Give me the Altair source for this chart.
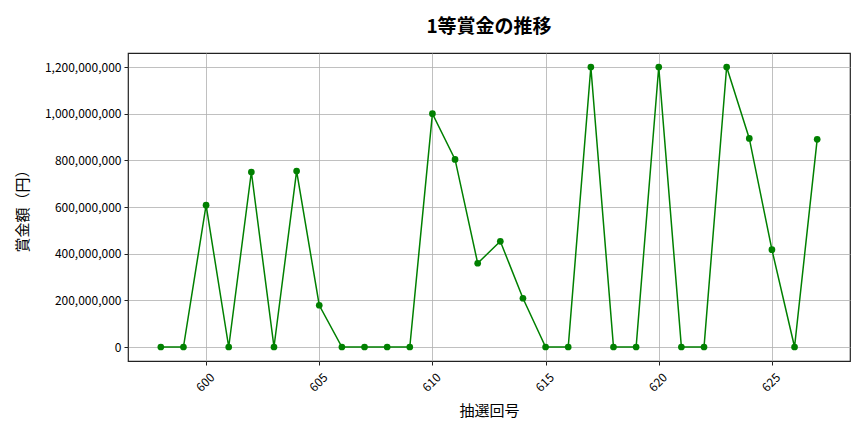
import altair as alt
import pandas as pd

draws = list(range(598, 628))
prizes = [0, 0, 608000000, 0, 750000000, 0, 754000000, 179000000, 0, 0,
          0, 0, 1000000000, 804000000, 359000000, 453000000, 209000000, 0, 0, 1200000000,
          0, 0, 1200000000, 0, 0, 1200000000, 894000000, 417000000, 0, 890000000]

df = pd.DataFrame({"draw": draws, "prize": prizes})
FONT = "Noto Sans CJK JP"

x = alt.X("draw:Q", title="抽選回号",
          scale=alt.Scale(domain=[596.55, 628.45], nice=False, zero=False),
          axis=alt.Axis(values=[600, 605, 610, 615, 620, 625], labelAngle=-45,
                        labelAlign="right", labelBaseline="middle", labelOffset=6,
                        labelPadding=10, format="d"))
y = alt.Y("prize:Q", title="賞金額（円）",
          scale=alt.Scale(domain=[-60000000, 1260000000], nice=False, zero=False),
          axis=alt.Axis(values=[0, 200000000, 400000000, 600000000, 800000000,
                                1000000000, 1200000000], format=",d", labelPadding=3))

base = alt.Chart(df).encode(x=x, y=y)
line = base.mark_line(color="green", strokeWidth=1.5)
pts = base.mark_circle(color="green", size=45, opacity=1)

chart = (line + pts).properties(
    width=722, height=308,
    padding={"left": 7, "top": 10, "right": 5, "bottom": 5},
    title=alt.TitleParams("1等賞金の推移", fontSize=19, font=FONT, fontWeight="bold",
                          color="black", offset=16),
).configure_view(stroke="#222", strokeWidth=1.2).configure_axis(
    labelFont=FONT, titleFont=FONT, labelFontSize=12, titleFontSize=15,
    labelColor="black", titleColor="black", titleFontWeight="normal",
    grid=True, gridColor="#b0b0b0", gridWidth=0.8,
    domain=False, tickColor="#222", tickSize=4,
).configure_axisY(titlePadding=14).configure_axisX(titlePadding=10)

chart.save("out.html", embed_options={"renderer": "svg", "actions": False})
